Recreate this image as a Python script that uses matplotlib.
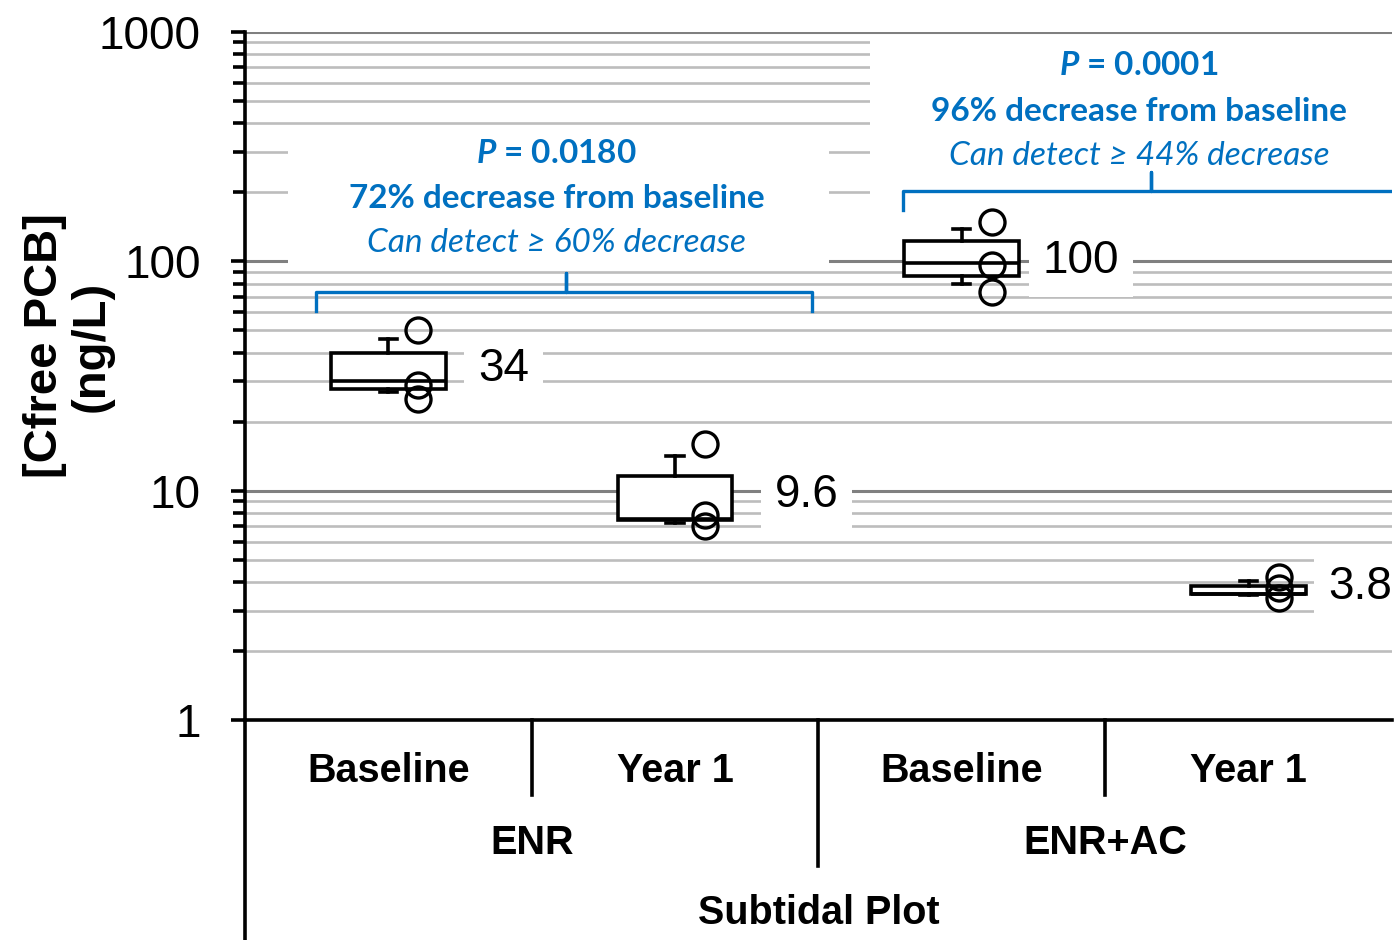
import matplotlib
matplotlib.use("Agg")
import matplotlib.pyplot as plt
from matplotlib import ticker

# values
groups = ["ENR", "ENR+AC"]
periods = ["Baseline", "Year 1", "Baseline", "Year 1"]
q1 = [27.8, 7.45, 86, 3.55]
medians = [30, 7.5, 98, 3.55]
q3 = [40, 11.6, 123, 3.85]
whisk_lo = [27, 7.2, 80, 3.52]
whisk_hi = [46, 14.2, 139, 4.05]
points = [[50, 29, 25], [16, 7.8, 7.0], [148, 96, 73.5], [4.2, 3.75, 3.4]]
mean_values = [34, 9.6, 100, 3.8]
mean_labels = ["34", "9.6", "100", "3.8"]
p_values = ["0.0180", "0.0001"]
decreases = ["72%", "96%"]
detectable = ["60%", "44%"]
yticks = [1, 10, 100, 1000]

BLUE = "#0070C0"
plt.rcParams["font.family"] = ["Liberation Sans", "DejaVu Sans"]
plt.rcParams["mathtext.fontset"] = "custom"
plt.rcParams["mathtext.it"] = "Lato:italic:bold"
ANNO_FONT = ["Lato", "Open Sans", "DejaVu Sans"]

fig = plt.figure(figsize=(13.95, 9.4), dpi=100)
ax = fig.add_axes([0.1756, 0.234, 0.8222, 0.732])
ax.set_yscale("log")
ax.set_ylim(1, 1000)
ax.set_xlim(-0.5, 3.5)

# gridlines
ax.set_axisbelow(True)
ax.yaxis.grid(True, which="major", color="#808080", lw=2.2)
ax.yaxis.grid(True, which="minor", color="#BDBDBD", lw=1.9)
ax.yaxis.set_major_locator(ticker.FixedLocator(yticks))
ax.yaxis.set_major_formatter(ticker.FixedFormatter([str(t) for t in yticks]))
ax.yaxis.set_minor_locator(ticker.LogLocator(subs=range(2, 10)))
ax.yaxis.set_minor_formatter(ticker.NullFormatter())
ax.tick_params(axis="y", which="major", length=10, width=2.6, pad=22, labelsize=33)
ax.tick_params(axis="y", which="minor", length=9, width=2.6)
ax.set_xticks([])
for s in ["top", "right"]:
    ax.spines[s].set_visible(False)
ax.spines["left"].set_linewidth(2.6)
ax.spines["bottom"].set_linewidth(2.6)

# white panels behind the annotations
ax.fill_between([-0.35, 1.538], 95, 392, color="white", lw=0, zorder=1)
ax.fill_between([1.681, 3.6], 194, 955, color="white", lw=0, zorder=1)

# boxes
stats = []
for i in range(len(periods)):
    stats.append(dict(q1=q1[i], med=medians[i], q3=q3[i],
                      whislo=whisk_lo[i], whishi=whisk_hi[i], fliers=[]))
lp = dict(color="black", lw=2.6)
ax.bxp(stats, positions=range(len(periods)), widths=0.4, capwidths=0.06,
       showfliers=False, patch_artist=True,
       boxprops=dict(facecolor="white", edgecolor="black", lw=2.6),
       medianprops=lp, whiskerprops=lp, capprops=lp, manage_ticks=False)

for i, pts in enumerate(points):
    ax.plot([i + 0.105] * len(pts), pts, ls="none", marker="o", ms=18,
            mfc="none", mec="black", mew=2.4, zorder=4)

# mean labels (left edge offset from the category centre)
label_dx = [0.312, 0.348, 0.282, 0.277]
for i, (v, lab) in enumerate(zip(mean_values, mean_labels)):
    ax.text(i + label_dx[i], v, lab, ha="left", va="center", fontsize=33,
            bbox=dict(boxstyle="square,pad=0.3", fc="white", ec="none"),
            zorder=3)

# annotation text blocks and brackets
anno_x = [0.587, 2.618]
anno_y = [[296, 188, 120], [711, 452, 288]]
for k in range(2):
    y0, y1, y2 = anno_y[k]
    ax.text(anno_x[k], y0, f"$P$ = {p_values[k]}", ha="center", va="center",
            color=BLUE, fontsize=24, fontweight="bold", family=ANNO_FONT, zorder=3)
    ax.text(anno_x[k], y1, f"{decreases[k]} decrease from baseline", ha="center",
            va="center", color=BLUE, fontsize=24, fontweight="bold",
            family=ANNO_FONT, zorder=3)
    ax.text(anno_x[k], y2, f"Can detect \u2265 {detectable[k]} decrease", ha="center",
            va="center", color=BLUE, fontsize=24, style="italic",
            family=ANNO_FONT, zorder=3)

brackets = [(-0.253, 0.618, 1.479, 60.5, 73.5, 88.7),
            (1.796, 2.66, 3.8, 167, 202, 245)]
for x0, xc, x1, yb, yh, yt in brackets:
    ax.plot([x0, x0, xc, xc, xc, x1, x1], [yb, yh, yh, yt, yh, yh, yb],
            color=BLUE, lw=2.4, solid_joinstyle="round", zorder=3)

# multi-level category axis
tr = ax.get_xaxis_transform()
lk = dict(color="black", lw=2.6, transform=tr, clip_on=False)
ax.plot([-0.5, -0.5], [0, -0.4], **lk)
ax.plot([0.5, 0.5], [0, -0.109], **lk)
ax.plot([2.5, 2.5], [0, -0.109], **lk)
ax.plot([1.5, 1.5], [0, -0.212], **lk)
for i, p in enumerate(periods):
    ax.text(i, -0.074, p, transform=tr, ha="center", va="center",
            fontsize=28.5, fontweight="bold")
for j, g in enumerate(groups):
    ax.text(0.5 + 2 * j, -0.179, g, transform=tr, ha="center", va="center",
            fontsize=28.5, fontweight="bold")
ax.text(1.5, -0.28, "Subtidal Plot", transform=tr, ha="center", va="center",
        fontsize=28.5, fontweight="bold")

fig.text(0.049, 0.632, "[Cfree PCB]\n(ng/L)", rotation=90, ha="center",
         va="center", fontsize=34, fontweight="bold", linespacing=1.1,
         multialignment="center")

fig.savefig("out.png", dpi=100)
